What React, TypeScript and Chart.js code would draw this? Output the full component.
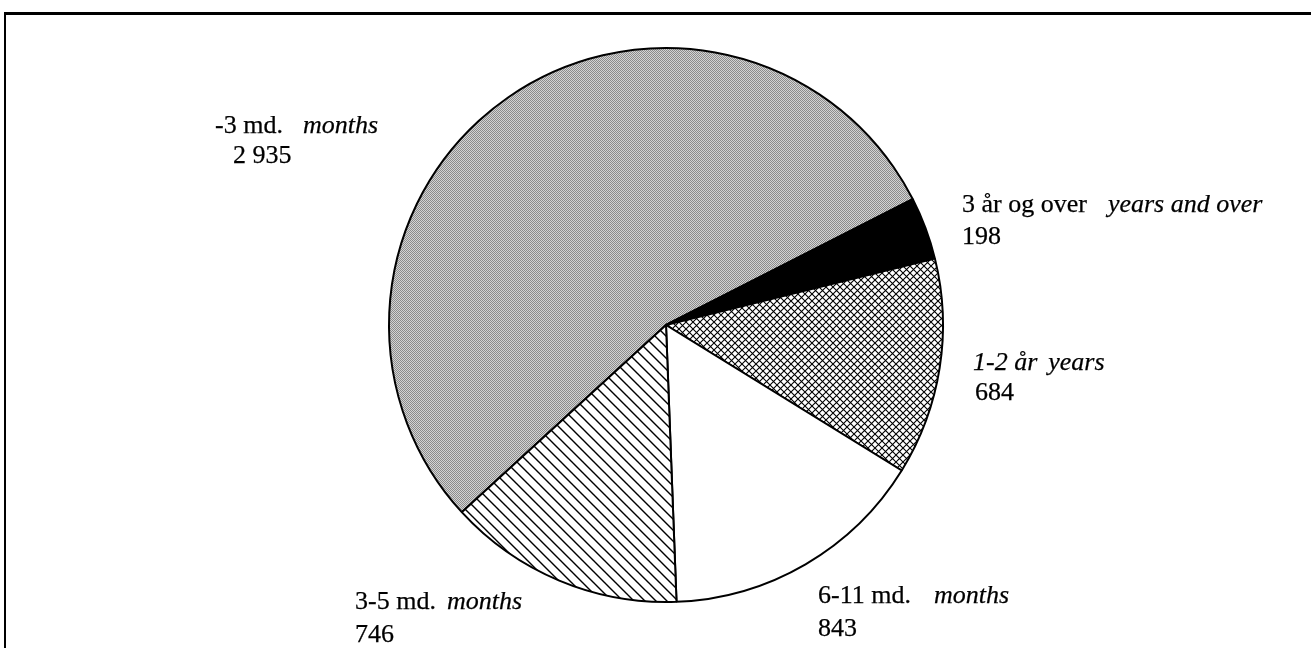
import React, { useEffect, useRef } from "react";
import { Chart, registerables } from "chart.js";

Chart.register(...registerables);

// ---- Data (clockwise order as drawn) ----
const categories = ["-3 md.", "3 år og over", "1-2 år", "6-11 md.", "3-5 md."];
const englishLabels = ["months", "years and over", "years", "months", "months"];
const values = [2935, 198, 684, 843, 746];

// ---- Layout / style (not data) ----
const W = 1311;
const H = 648;
const FONT = '"Liberation Serif", "Times New Roman", serif';
const FS = 26;

type LabelLayout = {
  left: number;
  base1: number;
  base2: number;
  gap: number;
  numLeft: number;
  allItalic?: boolean;
};
const labelLayout: LabelLayout[] = [
  { left: 215, base1: 134, base2: 164, gap: 20, numLeft: 233 },
  { left: 962, base1: 213, base2: 245, gap: 21, numLeft: 962 },
  { left: 973, base1: 371, base2: 401, gap: 11, numLeft: 975, allItalic: true },
  { left: 818, base1: 604, base2: 637, gap: 23, numLeft: 818 },
  { left: 355, base1: 610, base2: 643, gap: 11, numLeft: 355 },
];

function fmt(n: number): string {
  return String(n).replace(/\B(?=(\d{3})+(?!\d))/g, " ");
}

// top of a div with lineHeight = FS so that the text baseline falls at `base`
function topFor(base: number): number {
  return base - (0.891 - (1.107 - 1) / 2) * FS;
}

function makePattern(kind: string): CanvasPattern | string {
  const c = document.createElement("canvas");
  const ctx = c.getContext("2d")!;
  if (kind === "gray") {
    c.width = 2;
    c.height = 2;
    ctx.fillStyle = "#d4d4d4";
    ctx.fillRect(0, 0, 2, 2);
    ctx.fillStyle = "#8c8c8c";
    ctx.fillRect(0, 0, 1, 1);
    ctx.fillRect(1, 1, 1, 1);
  } else if (kind === "hatch") {
    const s = 11;
    c.width = s;
    c.height = s;
    ctx.fillStyle = "#fff";
    ctx.fillRect(0, 0, s, s);
    ctx.strokeStyle = "#000";
    ctx.lineWidth = 1.4;
    ctx.beginPath();
    ctx.moveTo(-2, -2);
    ctx.lineTo(s + 2, s + 2);
    ctx.moveTo(-2, s - 2);
    ctx.lineTo(2, s + 2);
    ctx.moveTo(s - 2, -2);
    ctx.lineTo(s + 2, 2);
    ctx.stroke();
  } else if (kind === "cross") {
    const s = 7;
    c.width = s;
    c.height = s;
    ctx.fillStyle = "#fff";
    ctx.fillRect(0, 0, s, s);
    ctx.strokeStyle = "#000";
    ctx.lineWidth = 1.1;
    ctx.beginPath();
    ctx.moveTo(-1, -1);
    ctx.lineTo(s + 1, s + 1);
    ctx.moveTo(s + 1, -1);
    ctx.lineTo(-1, s + 1);
    ctx.stroke();
  } else {
    return kind;
  }
  return ctx.createPattern(c, "repeat")!;
}

export default function App() {
  const ref = useRef<HTMLCanvasElement>(null);

  useEffect(() => {
    document.body.style.margin = "0";
    const canvas = ref.current!;
    const fills = [
      makePattern("gray"),
      "#000000",
      makePattern("cross"),
      "#ffffff",
      makePattern("hatch"),
    ];
    const chart = new Chart(canvas, {
      type: "pie",
      data: {
        labels: categories,
        datasets: [
          {
            data: values,
            backgroundColor: fills as any,
            borderColor: "#000",
            borderWidth: 2,
            hoverOffset: 0,
          },
        ],
      },
      options: {
        animation: false,
        responsive: false,
        maintainAspectRatio: false,
        rotation: -132.5,
        layout: { padding: { top: 47, bottom: 45, left: 300, right: 279 } },
        plugins: {
          legend: { display: false },
          tooltip: { enabled: false },
          title: { display: false },
        },
        events: [],
      },
    });
    return () => chart.destroy();
  }, []);

  const lineStyle = (left: number, base: number): React.CSSProperties => ({
    position: "absolute",
    left,
    top: topFor(base),
    fontSize: FS,
    lineHeight: `${FS}px`,
    color: "#000",
    whiteSpace: "pre",
    WebkitTextStroke: "0.25px #000",
  });

  return (
    <div style={{ position: "relative", width: W, height: H, overflow: "hidden", background: "#fff", fontFamily: FONT }}>
      <div
        style={{
          position: "absolute",
          left: 4,
          top: 12,
          width: W + 20,
          height: H + 20,
          borderLeft: "2px solid #000",
          borderTop: "3px solid #000",
          boxSizing: "border-box",
        }}
      />
      <canvas ref={ref} width={W} height={H} style={{ position: "absolute", left: 0, top: 0, width: W, height: H }} />
      {categories.map((cat, i) => {
        const l = labelLayout[i];
        return (
          <React.Fragment key={i}>
            <div style={lineStyle(l.left, l.base1)}>
              <span style={{ fontStyle: l.allItalic ? "italic" : "normal" }}>{cat}</span>
              <span style={{ fontStyle: "italic", marginLeft: l.gap }}>{englishLabels[i]}</span>
            </div>
            <div style={lineStyle(l.numLeft, l.base2)}>{fmt(values[i])}</div>
          </React.Fragment>
        );
      })}
    </div>
  );
}
